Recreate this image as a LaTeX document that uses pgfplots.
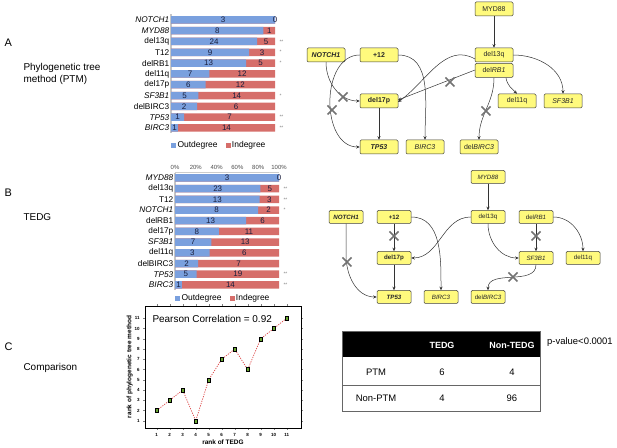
\documentclass[border=0pt]{standalone}
\usepackage{fontspec}
\setmainfont{Liberation Sans}
\usepackage{pgfplots}
\pgfplotsset{compat=1.18}
\usepackage{pgfplotstable}
\usetikzlibrary{arrows.meta}

\definecolor{outblue}{RGB}{122,160,222}
\definecolor{inred}{RGB}{214,110,106}
\definecolor{numcol}{RGB}{25,30,60}
\definecolor{boxyellow}{RGB}{255,250,125}
\definecolor{ptgreen}{RGB}{105,165,50}
\definecolor{lnred}{RGB}{220,70,70}

\newcommand{\lbl}{\fontsize{8.3}{9}\selectfont}
\newcommand{\numf}{\fontsize{8}{9}\selectfont}

% out / in degree counts per event
\pgfplotstableread{
gene     out in
NOTCH1   3   0
MYD88    8   1
del13q   24  5
T12      9   3
delRB1   13  5
del11q   7   12
del17p   6   12
SF3B1    5   14
delBIRC3 2   6
TP53     1   7
BIRC3    1   14
}\ptmdeg

\pgfplotstableread{
gene     out in
MYD88    3   0
del13q   23  5
T12      13  3
NOTCH1   8   2
delRB1   13  6
del17p   8   11
SF3B1    7   13
del11q   3   6
delBIRC3 2   7
TP53     5   19
BIRC3    1   14
}\tedgdeg

\pgfplotstableread{
tedg ptm
1  2
2  3
3  4
4  1
5  5
6  7
7  8
8  6
9  9
10 10
11 11
}\ranks

\pgfplotsset{
  degbars/.style={
    scale only axis, width=104bp,
    xmin=0, xmax=100, ymin=-0.5, ymax=10.5, y dir=reverse,
    ytick={0,...,10}, yticklabel style={font=\lbl, inner xsep=1.5bp},
    ytick style={draw=none}, xtick style={draw=none},
    axis y line*=left,
    y axis line style={-, draw=gray!45, line width=1.2bp},
    clip=false,
    legend columns=2, legend cell align=left,
    legend image code/.code={\fill[##1] (0bp,-2bp) rectangle (4bp,2bp);},
    legend style={draw=none, fill=none, inner sep=0pt, font=\fontsize{8.5}{9}\selectfont,
      /tikz/every even column/.append style={column sep=6bp}},
  },
}

\newcommand{\degplots}[1]{%
  \addplot[xbar, bar width=7.5bp, bar shift=0pt, fill=inred, draw=none, forget plot]
    table[x expr=100, y expr=\coordindex] {#1};
  \addplot[xbar, bar width=7.5bp, bar shift=0pt, fill=outblue, draw=none, forget plot]
    table[x expr={100*\thisrow{out}/(\thisrow{out}+\thisrow{in})}, y expr=\coordindex] {#1};
  \addplot[draw=none, mark=none, forget plot, nodes near coords, point meta=explicit symbolic,
    every node near coord/.append style={anchor=center, font=\numf, text=numcol}]
    table[x expr={50*\thisrow{out}/(\thisrow{out}+\thisrow{in})}, y expr=\coordindex, meta=out] {#1};
  \addplot[draw=none, mark=none, forget plot, nodes near coords, point meta=explicit symbolic,
    every node near coord/.append style={anchor=center, font=\numf, text=numcol}]
    table[x expr={100*(\thisrow{out}+0.5*\thisrow{in})/(\thisrow{out}+\thisrow{in})}, y expr=\coordindex, meta=in] {#1};
  \addlegendimage{outblue}\addlegendentry{Outdegree}
  \addlegendimage{inred}\addlegendentry{Indegree}
}

\tikzset{
  gbox/.style={draw=black!75, fill=boxyellow, rounded corners=1.2bp, line width=0.5bp,
    inner sep=0pt, text=black!85},
  gA/.style={gbox, minimum width=38bp, minimum height=14bp, font=\fontsize{7}{8}\selectfont},
  gB/.style={gbox, minimum width=34bp, minimum height=13bp, font=\fontsize{6.2}{7}\selectfont},
  edge/.style={-{Stealth[length=3.5bp,width=3bp]}, line width=0.5bp, draw=black!80},
}
\newcommand{\xcross}[2]{\draw[line width=1.6bp, draw=black!55] (#1-4.5,#2-4.5) -- (#1+4.5,#2+4.5) (#1-4.5,#2+4.5) -- (#1+4.5,#2-4.5);}

\begin{document}
\begin{tikzpicture}[x=1bp, y=1bp]
\path[use as bounding box] (0bp,0bp) rectangle (617bp,448bp);

% ---------- A: degree bars ----------
\begin{axis}[degbars, at={(171bp,314.6bp)}, anchor=south west, height=119bp,
  axis x line=none,
  yticklabels={\textit{NOTCH1},\textit{MYD88},del13q,T12,delRB1,del11q,del17p,\textit{SF3B1},delBIRC3,\textit{TP53},\textit{BIRC3}},
  legend style={at={(0,-0.05)}, anchor=north west}]
\degplots{\ptmdeg}
\addplot[draw=none, mark=none, forget plot, nodes near coords, point meta=explicit symbolic,
  every node near coord/.append style={anchor=west, xshift=1bp, font=\fontsize{5}{5}\selectfont, text=gray}]
  coordinates {(100,2) [**] (100,3) [*] (100,4) [*] (100,7) [*] (100,9) [**] (100,10) [**]};
\end{axis}

% ---------- B: degree bars ----------
\begin{axis}[degbars, at={(175bp,157.7bp)}, anchor=south west, height=117.7bp,
  axis x line*=top, x axis line style={-, draw=gray!40},
  xtick={0,20,...,100}, xticklabels={0\%,20\%,40\%,60\%,80\%,100\%},
  xticklabel style={font=\fontsize{6}{6}\selectfont, text=black!70},
  /pgf/number format/assume math mode=true,
  yticklabels={\textit{MYD88},del13q,T12,\textit{NOTCH1},delRB1,del17p,\textit{SF3B1},del11q,delBIRC3,\textit{TP53},\textit{BIRC3}},
  legend style={at={(0,-0.02)}, anchor=north west}]
\degplots{\tedgdeg}
\addplot[draw=none, mark=none, forget plot, nodes near coords, point meta=explicit symbolic,
  every node near coord/.append style={anchor=west, xshift=1bp, font=\fontsize{5}{5}\selectfont, text=gray}]
  coordinates {(100,1) [**] (100,2) [**] (100,3) [*] (100,9) [**] (100,10) [**]};
\end{axis}

% ---------- C: rank comparison ----------
\begin{axis}[at={(145bp,20bp)}, anchor=south west, scale only axis,
  width=156bp, height=122bp,
  xmin=0.1, xmax=12.1, ymin=0.3, ymax=12.2,
  xtick={1,...,11}, ytick={1,...,11},
  /pgf/number format/assume math mode=true,
  tick label style={font=\fontsize{4.5}{5}\selectfont\bfseries},
  xlabel={rank of TEDG}, ylabel={rank of phylogenetic tree method},
  label style={font=\fontsize{6.5}{7}\selectfont\bfseries},
  xlabel style={yshift=4bp}, ylabel style={yshift=-5bp},
  tick align=outside, major tick length=1.8bp,
  axis line style={line width=0.8bp}]
\addplot[lnred, line width=0.7bp, dash pattern=on 1.2bp off 1.2bp,
  mark=square*, mark size=1.9bp,
  mark options={solid, fill=ptgreen, draw=black, line width=0.4bp}]
  table[x=tedg, y=ptm] {\ranks};
\end{axis}

% everything below uses pixel coordinates measured from the top-left corner
\begin{scope}[shift={(0bp,448bp)}, x=1bp, y=-1bp]
% ---------- panel labels ----------
\node[anchor=west, font=\fontsize{11}{12}\selectfont] at (1,43) {A};
\node[anchor=west, align=left, font=\fontsize{10}{12}\selectfont] at (20,74) {Phylogenetic tree\\method (PTM)};
\node[anchor=west, font=\fontsize{11}{12}\selectfont] at (1,193) {B};
\node[anchor=west, font=\fontsize{10}{12}\selectfont] at (20,217) {TEDG};
\node[anchor=west, font=\fontsize{11}{12}\selectfont] at (1,347) {C};
\node[anchor=west, font=\fontsize{10}{12}\selectfont] at (20,368) {Comparison};

\node[anchor=west, font=\fontsize{10}{11}\selectfont] at (149,319) {Pearson Correlation = 0.92};

% ---------- A: network ----------
\node[gA] (aMYD) at (494,9) {MYD88};
\node[gA] (a13q) at (494,55) {del13q};
\node[gA] (aRB1) at (494,70.5) {del\textit{RB1}};
\node[gA] (a11q) at (517,101) {del11q};
\node[gA] (aSF3) at (563,101) {\textit{SF3B1}};
\node[gA] (aDB)  at (479,147) {del\textit{BIRC3}};
\node[gA] (aBI)  at (425,147) {\textit{BIRC3}};
\node[gA] (aTP)  at (379,147) {\textbf{\textit{TP53}}};
\node[gA] (a17p) at (379,101) {\textbf{del17p}};
\node[gA] (a12)  at (379,55) {\textbf{+12}};
\node[gA] (aNO)  at (326,55) {\textbf{\textit{NOTCH1}}};
\draw[edge] (aMYD.south) -- (a13q.north);
\draw[edge] (a13q.east) to[out=0, in=90] (aSF3.north);
\draw[edge] (506,78) to[out=-80, in=135] (a11q.north);
\draw[edge] (494,78) to[out=-90, in=90] (aDB.north);
\draw[edge] (475,59) to[out=150, in=35] (398,102);
\draw[edge] (475,70) -- (398,100);
\draw[edge] (a12.east) to[out=0, in=90] (aBI.north);
\draw[edge] (aNO.south) to[out=-90, in=180] (a17p.west);
\draw[edge] (a12.west) to[out=180, in=180, looseness=1.1] (aTP.west);
\draw[edge] (a17p.south) -- (aTP.north);
\xcross{486}{111}
\xcross{450}{82}
\xcross{343}{97}
\xcross{332}{110}

% ---------- B: network ----------
\node[gB] (bMYD) at (488,177) {\textit{MYD88}};
\node[gB] (b13q) at (488,217) {del13q};
\node[gB] (bRB1) at (536,217) {del\textit{RB1}};
\node[gB] (b12)  at (394,217) {\textbf{+12}};
\node[gB] (bNO)  at (346,217) {\textbf{\textit{NOTCH1}}};
\node[gB] (b17p) at (394,258) {\textbf{del17p}};
\node[gB] (bSF3) at (536,258) {\textit{SF3B1}};
\node[gB] (b11q) at (583,258) {del11q};
\node[gB] (bTP)  at (394,297) {\textbf{\textit{TP53}}};
\node[gB] (bBI)  at (441,297) {\textit{BIRC3}};
\node[gB] (bDB)  at (488,297) {del\textit{BIRC3}};
\draw[edge] (bMYD.south) -- (b13q.north);
\draw[edge] (b13q.west) to[out=180, in=0] (b17p.east);
\draw[edge] (b13q.south) to[out=-90, in=180] (bSF3.west);
\draw[edge] (bRB1.south) -- (bSF3.north);
\draw[edge] (bRB1.east) to[out=0, in=90] (b11q.north);
\draw[edge] (bSF3.south) to[out=-90, in=90] (bDB.north);
\draw[edge] (b12.south) -- (b17p.north);
\draw[edge] (b12.east) to[out=0, in=90] (bBI.north);
\draw[edge] (bNO.south) -- (346,255) to[out=-90, in=180] (bTP.west);
\draw[edge] (b17p.south) -- (bTP.north);
\xcross{536}{236}
\xcross{513}{277}
\xcross{394}{236}
\xcross{347}{262}

% ---------- C: contingency table ----------
\fill[black] (342,331) rectangle (540,357);
\draw[black!60, line width=0.6bp] (342,331) rectangle (540,411);
\draw[black!60, line width=0.6bp] (342,385) -- (540,385);
\begin{scope}[font=\fontsize{9.5}{11}\selectfont]
\node[text=white, font=\fontsize{9}{11}\selectfont\bfseries] at (442,345) {TEDG};
\node[text=white, font=\fontsize{9}{11}\selectfont\bfseries] at (512,345) {Non-TEDG};
\node at (376,372) {PTM};
\node at (442,372) {6};
\node at (512,372) {4};
\node at (376,398) {Non-PTM};
\node at (442,398) {4};
\node at (512,398) {96};
\node[anchor=west, inner sep=1bp] at (546,342) {p-value<0.0001};
\end{scope}
\end{scope}
\end{tikzpicture}
\end{document}
